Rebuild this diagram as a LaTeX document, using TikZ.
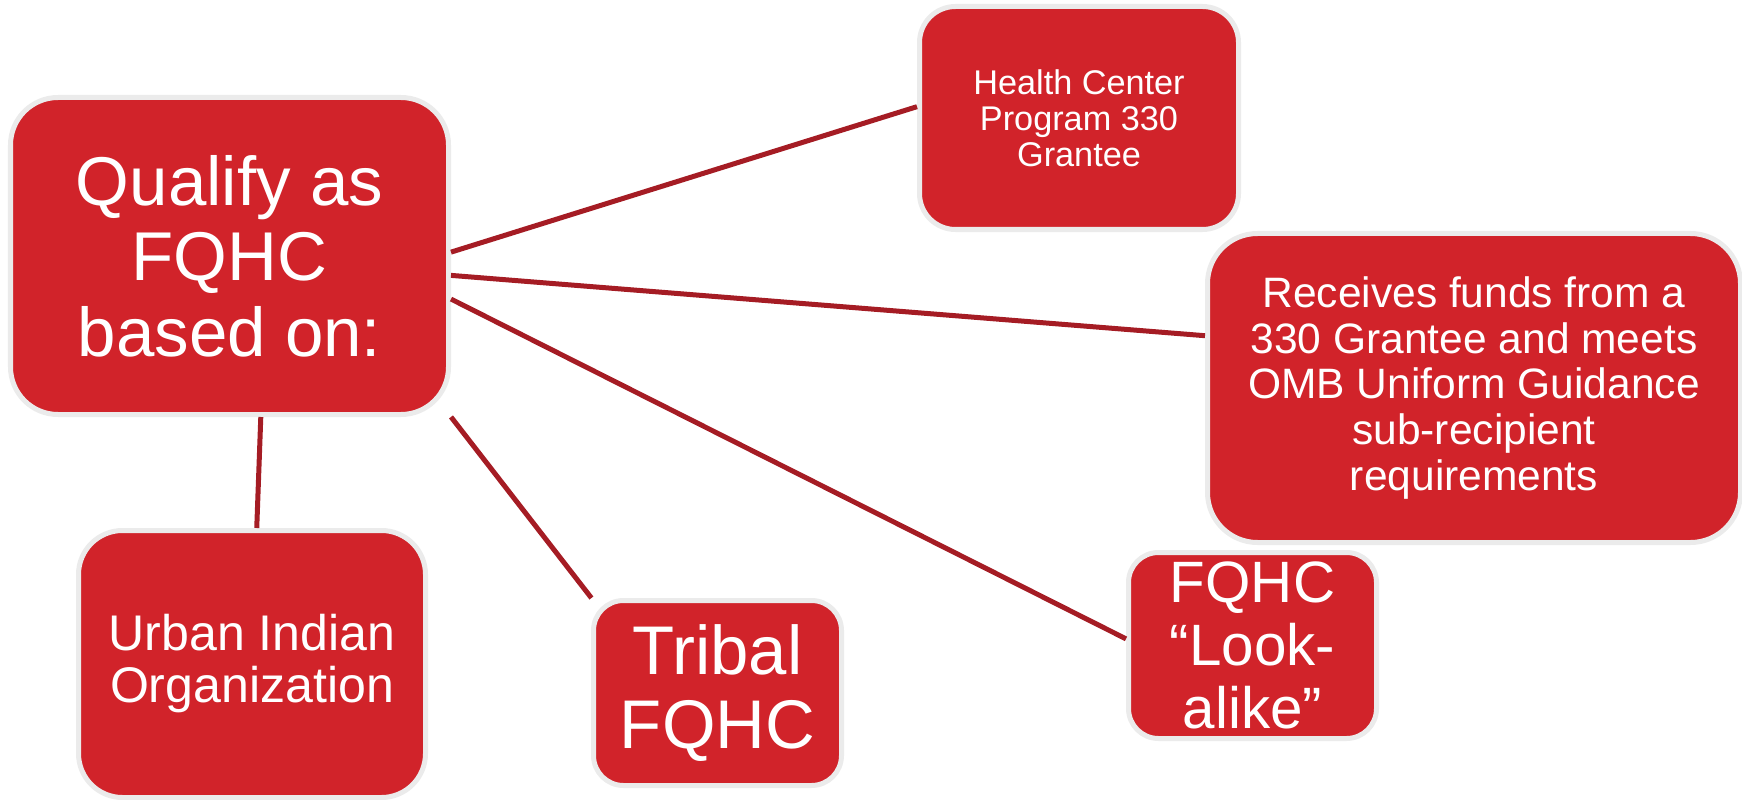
\documentclass[tikz,border=0pt]{standalone}
\usepackage{fontspec}
\setmainfont{Liberation Sans}
\definecolor{boxred}{RGB}{209, 35, 42}
\definecolor{linkred}{RGB}{165, 28, 36}
\definecolor{rimgray}{RGB}{235, 235, 235}

\begin{document}
\begin{tikzpicture}[
        box/.style={rectangle, rounded corners=#1, draw=rimgray, fill=boxred, line width=0.1cm, text=white, align=center, inner sep=0pt},
        link/.style={draw=linkred, line width=0.1cm}
    ]
        \useasboundingbox (0, 0) rectangle (34.84, 15.98);

        % Centre box
        \node[box=0.95cm, minimum width=8.76cm, minimum height=6.34cm, font=\fontsize{39.3}{43}\selectfont] (qualify) at (4.59, 10.86) {Qualify as\\FQHC\\based on:};

        % Right hand side
        \node[box=0.72cm, minimum width=6.38cm, minimum height=4.46cm, font=\fontsize{19.5}{20.5}\selectfont] (grantee) at (21.58, 13.62) {Health Center\\Program 330\\Grantee};
        \node[box=1.0cm, minimum width=10.66cm, minimum height=6.18cm, font=\fontsize{24.2}{26}\selectfont] (subrecip) at (29.48, 8.22) {Receives funds from a\\330 Grantee and meets\\OMB Uniform Guidance\\sub-recipient\\requirements};
        \node[box=0.6cm, minimum width=4.96cm, minimum height=3.72cm, font=\fontsize{33.2}{36}\selectfont] (lookalike) at (25.05, 3.07) {FQHC\\``Look-\\alike''};

        % Bottom row
        \node[box=0.6cm, minimum width=4.96cm, minimum height=3.70cm, font=\fontsize{39.2}{42}\selectfont] (tribal) at (14.35, 2.12) {Tribal\\FQHC};
        \node[box=0.88cm, minimum width=6.94cm, minimum height=5.34cm, font=\fontsize{28.5}{29.6}\selectfont] (urban) at (5.04, 2.70) {Urban Indian\\Organization};

        % Links
        \draw[link] (qualify.1.3) -- (grantee.176.5);
        \draw[link] (qualify.-5.9) -- (subrecip.169.7);
        \draw[link] (qualify.-11.7) -- (lookalike.177.5);
        \draw[link] (qualify.-36.8) -- (tribal.143.6);
        \draw[link] (qualify.-79.8) -- (urban.88.3);
    \end{tikzpicture}
\end{document}
